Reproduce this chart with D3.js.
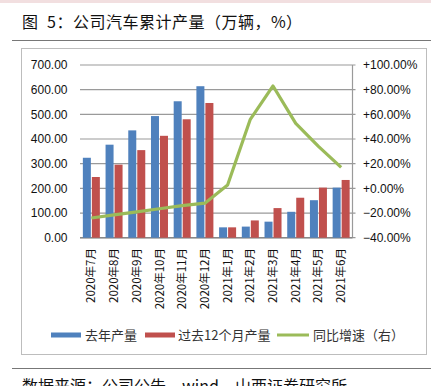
<!DOCTYPE html>
<html><head><meta charset="utf-8">
<script src="https://cdn.jsdelivr.net/npm/d3@7"></script>
<style>
html,body{margin:0;padding:0;background:#fff;overflow:hidden;}
svg{display:block;}
</style></head>
<body>
<svg id="c" width="431" height="386"></svg>
<script>
const categories = ["2020年7月","2020年8月","2020年9月","2020年10月","2020年11月","2020年12月","2021年1月","2021年2月","2021年3月","2021年4月","2021年5月","2021年6月"];
const lastYear = [324, 377, 435, 493, 553, 614, 42, 45, 65, 105, 152, 203];
const past12 = [246, 296, 355, 413, 480, 546, 42, 70, 120, 162, 203, 234];
const yoy = [-24, -21.5, -19, -16.5, -14, -12, 2.7, 56, 83, 52.7, 34, 17];
const leftTicks = [0, 100, 200, 300, 400, 500, 600, 700];
const rightTicks = [-40, -20, 0, 20, 40, 60, 80, 100];
const seriesNames = ["去年产量", "过去12个月产量", "同比增速（右）"];
const colors = ["#4f81bd", "#c0504d", "#9bbb59"];

const svg = d3.select("#c");
const cjk = "'Noto Sans CJK SC', sans-serif";
const num = "'Liberation Sans', Arial, sans-serif";

// top pink strip
svg.append("rect").attr("x",0).attr("y",0).attr("width",431).attr("height",3).attr("fill","#f2dfe0");
// title
svg.append("text").attr("x",22).attr("y",28).attr("font-family",cjk).attr("font-size",16)
  .attr("letter-spacing",0.5)
  .attr("fill","#111").text("图\u20025：公司汽车累计产量（万辆，%）");
svg.append("line").attr("x1",12).attr("x2",431).attr("y1",40.5).attr("y2",40.5).attr("stroke","#777").attr("stroke-width",1);
// chart box
svg.append("rect").attr("x",21.5).attr("y",48.5).attr("width",405).attr("height",306).attr("fill","none").attr("stroke","#bdbdbd").attr("stroke-width",1);
// footer
svg.append("line").attr("x1",12).attr("x2",431).attr("y1",368.5).attr("y2",368.5).attr("stroke","#777").attr("stroke-width",1);
svg.append("text").attr("x",22).attr("y",392).attr("font-family",cjk).attr("font-size",16)
  .attr("fill","#111").text("数据来源：公司公告，wind，山西证券研究所");

const L = 80, R = 352.5, T = 65, B = 237.7;
const x = d3.scaleBand().domain(categories).range([L, R]).paddingInner(0).paddingOuter(0);
const yL = d3.scaleLinear().domain([0, 700]).range([B, T]);
const yR = d3.scaleLinear().domain([-40, 100]).range([B, T]);

// gridlines
const g = svg.append("g");
g.selectAll("line.grid").data(leftTicks).join("line")
  .attr("x1", L).attr("x2", R + 3).attr("y1", d => yL(d)).attr("y2", d => yL(d))
  .attr("stroke", "#9a9a9a").attr("stroke-width", 1.2);
// right axis line
g.append("line").attr("x1", R).attr("x2", R).attr("y1", T).attr("y2", B).attr("stroke", "#9a9a9a").attr("stroke-width", 1.2);
// bottom axis line
g.append("line").attr("x1", L).attr("x2", R).attr("y1", B).attr("y2", B).attr("stroke", "#888").attr("stroke-width", 1.5);

// left tick labels
svg.append("g").selectAll("text").data(leftTicks).join("text")
  .attr("x", 67.5).attr("y", d => yL(d)).attr("dy", "0.35em").attr("text-anchor", "end")
  .attr("font-family", num).attr("font-size", 12).attr("fill", "#111")
  .text(d => d3.format(".2f")(d));
// right tick labels
svg.append("g").selectAll("text").data(rightTicks).join("text")
  .attr("x", 363).attr("y", d => yR(d)).attr("dy", "0.35em").attr("text-anchor", "start")
  .attr("font-family", num).attr("font-size", 12).attr("fill", "#111")
  .text(d => (d >= 0 ? "+" : "") + d3.format(".2f")(d) + "%");

// bars
const bw = 8, gap = 1;
const bars = svg.append("g");
bars.selectAll("rect.b").data(categories).join("rect")
  .attr("x", (d) => x(d) + x.bandwidth()/2 - gap/2 - bw)
  .attr("y", (d, i) => yL(lastYear[i]))
  .attr("width", bw).attr("height", (d, i) => B - yL(lastYear[i]))
  .attr("fill", colors[0]);
bars.selectAll("rect.r").data(categories).join("rect")
  .attr("x", (d) => x(d) + x.bandwidth()/2 + gap/2)
  .attr("y", (d, i) => yL(past12[i]))
  .attr("width", bw).attr("height", (d, i) => B - yL(past12[i]))
  .attr("fill", colors[1]);

// line
const line = d3.line().x((d, i) => x(categories[i]) + x.bandwidth()/2).y(d => yR(d));
svg.append("path").datum(yoy).attr("d", line).attr("fill", "none")
  .attr("stroke", colors[2]).attr("stroke-width", 3.2).attr("stroke-linejoin", "round");

// x labels rotated
svg.append("g").selectAll("text").data(categories).join("text")
  .attr("transform", d => `translate(${x(d) + x.bandwidth()/2},248) rotate(-90)`)
  .attr("dy", "0.35em").attr("text-anchor", "end")
  .attr("font-family", cjk).attr("font-size", 11.5).attr("fill", "#111")
  .text(d => d);

// legend
const lg = svg.append("g").attr("font-family", cjk).attr("font-size", 13).attr("fill", "#333");
const legendX = [51, 145, 277];
const legendTextX = [85, 178, 313];
seriesNames.forEach((name, i) => {
  if (i < 2) {
    lg.append("rect").attr("x", legendX[i]).attr("y", 332.5).attr("width", 30).attr("height", 5).attr("fill", colors[i]);
  } else {
    lg.append("line").attr("x1", legendX[i]).attr("x2", legendX[i] + 32).attr("y1", 335).attr("y2", 335)
      .attr("stroke", colors[i]).attr("stroke-width", 3);
  }
  lg.append("text").attr("x", legendTextX[i]).attr("y", 335).attr("dy", "0.35em").attr("fill", "#333").text(name);
});
</script>
</body></html>
